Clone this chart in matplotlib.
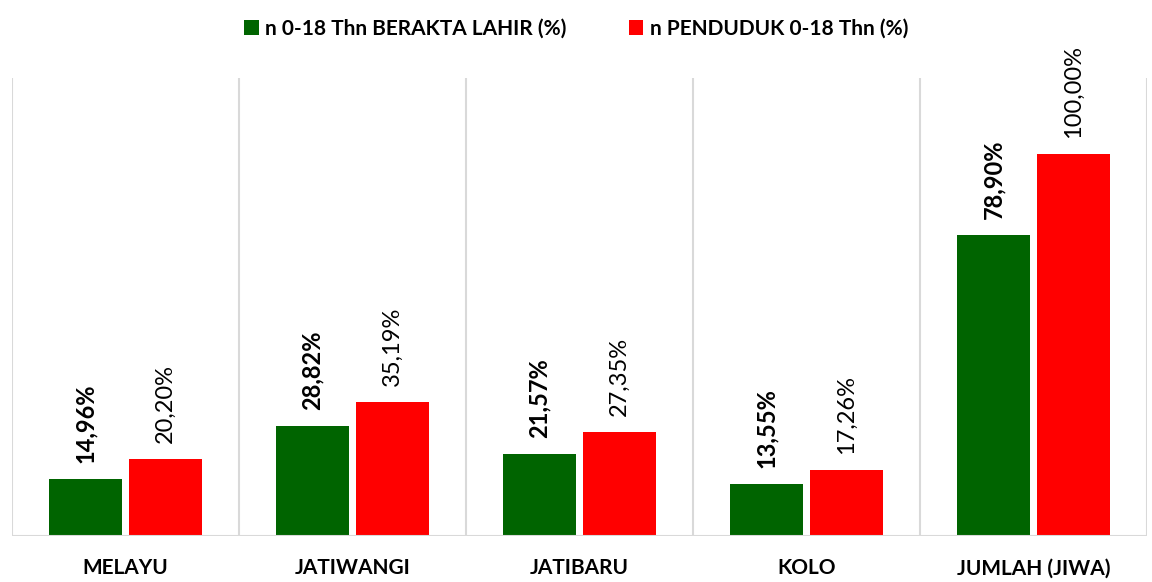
import matplotlib.pyplot as plt

categories = ['MELAYU', 'JATIWANGI', 'JATIBARU', 'KOLO', 'JUMLAH (JIWA)']
berakta = [14.96, 28.82, 21.57, 13.55, 78.90]
penduduk = [20.20, 35.19, 27.35, 17.26, 100.00]
series_names = ['n 0-18 Thn BERAKTA LAHIR (%)', 'n PENDUDUK 0-18 Thn (%)']

plt.rcParams['font.family'] = ['Lato', 'DejaVu Sans']

green = '#006400'
red = '#ff0000'
grid = '#d9d9d9'

fig = plt.figure(figsize=(11.52, 5.82), dpi=100)
ax = fig.add_axes([12 / 1152, 1 - 536 / 582, 1135 / 1152, 458 / 582])

x = list(range(len(categories)))
w = 0.32
off = 0.177
b1 = ax.bar([i - off for i in x], berakta, w, color=green, label=series_names[0])
b2 = ax.bar([i + off for i in x], penduduk, w, color=red, label=series_names[1])

def fmt(v):
    return f'{v:.2f}%'.replace('.', ',')

for rect, v in zip(b1, berakta):
    ax.annotate(fmt(v), (rect.get_x() + rect.get_width() / 2, v), xytext=(0, 11.5),
                textcoords='offset points', rotation=90, ha='center', va='bottom',
                fontsize=17, fontweight='bold')
for rect, v in zip(b2, penduduk):
    ax.annotate(fmt(v), (rect.get_x() + rect.get_width() / 2, v), xytext=(0, 11.5),
                textcoords='offset points', rotation=90, ha='center', va='bottom',
                fontsize=17)

for sep in [i - 0.5 for i in range(len(categories) + 1)]:
    ax.plot([sep, sep], [0, 120], color=grid, lw=1.5, zorder=0)
ax.axhline(0, color=grid, lw=1.5)

ax.set_xlim(-0.5, len(categories) - 0.5)
ax.set_ylim(0, 120)
ax.set_yticks([])
ax.set_xticks(x)
ax.set_xticklabels(categories, fontsize=15, fontweight='bold')
ax.tick_params(axis='x', length=0, pad=16)
for s in ax.spines.values():
    s.set_visible(False)

fig.legend(loc='upper center', bbox_to_anchor=(0.5, 1.0), ncol=2, frameon=False,
           prop={'size': 15, 'weight': 'bold'}, handlelength=0.7, handleheight=0.7,
           handletextpad=0.3, columnspacing=3)

fig.savefig('out.png', dpi=100)
